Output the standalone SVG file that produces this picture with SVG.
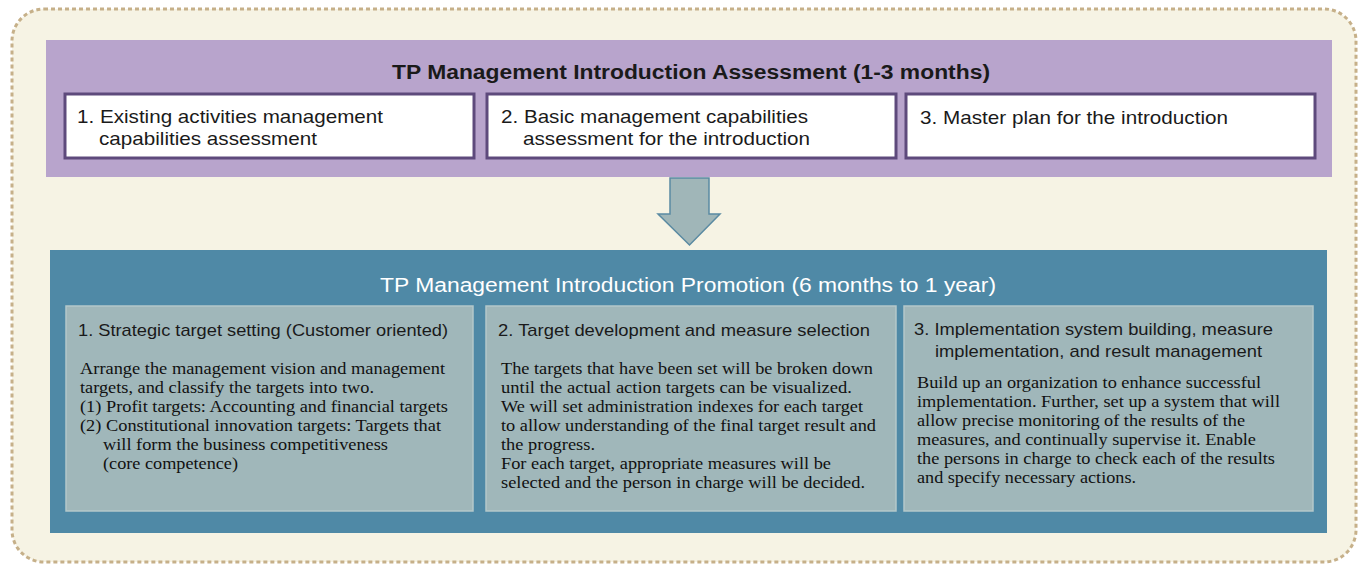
<svg xmlns="http://www.w3.org/2000/svg" width="1365" height="567" viewBox="0 0 1365 567">
<style>
.h{font-family:"Liberation Sans",Arial,sans-serif;fill:#1a1a1a}
.b{font-family:"Liberation Serif","Times New Roman",serif;fill:#111;font-size:16.5px}
.wb{fill:#fff;stroke:#5e4a7c;stroke-width:3}
.gb{fill:#a0b7ba;stroke:#b4c8ca;stroke-width:1.5}
</style>
<rect x="12" y="9" width="1344" height="553" rx="32" ry="32" fill="#f6f3e4" stroke="#c6b089" stroke-width="3" stroke-dasharray="4 3"/>
<g id="assessment">
<rect x="46" y="40" width="1286" height="137" fill="#b8a4cc"/>
<text class="h" x="392" y="79" font-size="20" font-weight="bold" textLength="598" lengthAdjust="spacingAndGlyphs">TP Management Introduction Assessment (1-3 months)</text>
</g>
<g id="a1">
<rect class="wb" x="65" y="94" width="409" height="64"/>
<text class="h" font-size="19" lengthAdjust="spacingAndGlyphs"><tspan x="77" y="123" textLength="306" lengthAdjust="spacingAndGlyphs">1. Existing activities management</tspan><tspan x="99" y="145" textLength="218" lengthAdjust="spacingAndGlyphs">capabilities assessment</tspan></text>
</g>
<g id="a2">
<rect class="wb" x="487" y="94" width="409" height="64"/>
<text class="h" font-size="19"><tspan x="501" y="123" textLength="307" lengthAdjust="spacingAndGlyphs">2. Basic management capabilities</tspan><tspan x="523" y="145" textLength="287" lengthAdjust="spacingAndGlyphs">assessment for the introduction</tspan></text>
</g>
<g id="a3">
<rect class="wb" x="906" y="94" width="409" height="64"/>
<text class="h" font-size="19"><tspan x="920" y="124" textLength="308" lengthAdjust="spacingAndGlyphs">3. Master plan for the introduction</tspan></text>
</g>
<g id="connectors">
<path d="M670,178 H709 V214 H720 L689.5,245 L658,214 H670 Z" fill="#a0b6b8" stroke="#5a8aa2" stroke-width="1.5"/>
</g>
<g id="promotion">
<rect x="50" y="250" width="1277" height="283" fill="#4f89a6"/>
<text x="380" y="292" font-family="Liberation Sans,Arial,sans-serif" font-size="20" fill="#fff" textLength="616" lengthAdjust="spacingAndGlyphs">TP Management Introduction Promotion (6 months to 1 year)</text>
</g>
<g id="p1">
<rect class="gb" x="66" y="306" width="407" height="205"/>
<text class="h" x="78" y="336" font-size="17" textLength="370" lengthAdjust="spacingAndGlyphs">1. Strategic target setting (Customer oriented)</text>
<text class="b"><tspan x="80" y="374" textLength="365" lengthAdjust="spacingAndGlyphs">Arrange the management vision and management</tspan><tspan x="80" y="393" textLength="294" lengthAdjust="spacingAndGlyphs">targets, and classify the targets into two.</tspan><tspan x="80" y="412" textLength="368" lengthAdjust="spacingAndGlyphs">(1) Profit targets: Accounting and financial targets</tspan><tspan x="80" y="431" textLength="361" lengthAdjust="spacingAndGlyphs">(2) Constitutional innovation targets: Targets that</tspan><tspan x="103" y="450" textLength="285" lengthAdjust="spacingAndGlyphs">will form the business competitiveness</tspan><tspan x="103" y="469" textLength="135" lengthAdjust="spacingAndGlyphs">(core competence)</tspan></text>
</g>
<g id="p2">
<rect class="gb" x="486" y="306" width="410" height="205"/>
<text class="h" x="498" y="336" font-size="17" textLength="372" lengthAdjust="spacingAndGlyphs">2. Target development and measure selection</text>
<text class="b"><tspan x="501" y="374" textLength="372" lengthAdjust="spacingAndGlyphs">The targets that have been set will be broken down</tspan><tspan x="501" y="393" textLength="351" lengthAdjust="spacingAndGlyphs">until the actual action targets can be visualized.</tspan><tspan x="501" y="412" textLength="362" lengthAdjust="spacingAndGlyphs">We will set administration indexes for each target</tspan><tspan x="501" y="431" textLength="375" lengthAdjust="spacingAndGlyphs">to allow understanding of the final target result and</tspan><tspan x="501" y="450" textLength="94" lengthAdjust="spacingAndGlyphs">the progress.</tspan><tspan x="501" y="469" textLength="330" lengthAdjust="spacingAndGlyphs">For each target, appropriate measures will be</tspan><tspan x="501" y="488" textLength="364" lengthAdjust="spacingAndGlyphs">selected and the person in charge will be decided.</tspan></text>
</g>
<g id="p3">
<rect class="gb" x="904" y="306" width="409" height="205"/>
<text class="h" font-size="17"><tspan x="914" y="335" textLength="359" lengthAdjust="spacingAndGlyphs">3. Implementation system building, measure</tspan><tspan x="935" y="357" textLength="327" lengthAdjust="spacingAndGlyphs">implementation, and result management</tspan></text>
<text class="b"><tspan x="917" y="388" textLength="344" lengthAdjust="spacingAndGlyphs">Build up an organization to enhance successful</tspan><tspan x="917" y="407" textLength="363" lengthAdjust="spacingAndGlyphs">implementation. Further, set up a system that will</tspan><tspan x="917" y="426" textLength="328" lengthAdjust="spacingAndGlyphs">allow precise monitoring of the results of the</tspan><tspan x="917" y="445" textLength="339" lengthAdjust="spacingAndGlyphs">measures, and continually supervise it. Enable</tspan><tspan x="917" y="464" textLength="358" lengthAdjust="spacingAndGlyphs">the persons in charge to check each of the results</tspan><tspan x="917" y="483" textLength="219" lengthAdjust="spacingAndGlyphs">and specify necessary actions.</tspan></text>
</g>
</svg>
